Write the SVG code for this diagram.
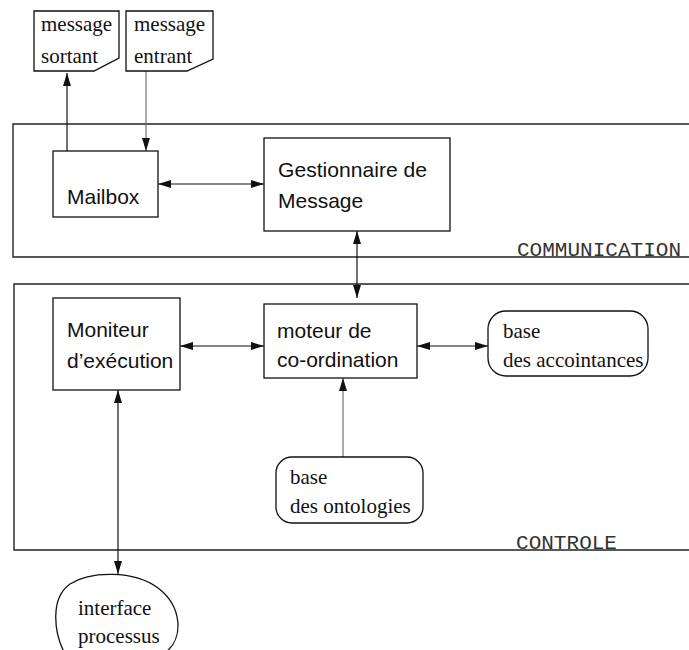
<svg xmlns="http://www.w3.org/2000/svg" width="689" height="650" viewBox="0 0 689 650">
  <defs>
    <marker id="arr" markerUnits="userSpaceOnUse" markerWidth="14" markerHeight="9" refX="13" refY="4" orient="auto-start-reverse">
      <path d="M0,0 L13,4 L0,8 Z" fill="#111"/>
    </marker>
    <style>
      .box { fill: #fff; stroke: #111; stroke-width: 1.3; }
      .frame { fill: none; stroke: #222; stroke-width: 1.4; }
      .sans { font-family: "Liberation Sans", Arial, sans-serif; font-size: 21px; fill: #111; }
      .serif { font-family: "Liberation Serif", "Times New Roman", serif; font-size: 21px; fill: #111; }
      .mono { font-family: "Liberation Mono", "Courier New", monospace; font-size: 20px; fill: #333; }
      .link { fill: none; stroke: #111; stroke-width: 1.2; }
      .thin { fill: none; stroke: #666; stroke-width: 1.1; }
    </style>
  </defs>
  <rect width="689" height="650" fill="#fff"/>

  <!-- layer frames -->
  <g id="communication">
    <path class="frame" d="M689,124 H13 V257 H689"/>
    <text class="mono" x="517" y="256" textLength="164" lengthAdjust="spacingAndGlyphs">COMMUNICATION</text>
  </g>
  <g id="controle">
    <path class="frame" d="M689,284 H14 V550 H689"/>
    <text class="mono" x="516" y="549" textLength="101" lengthAdjust="spacingAndGlyphs">CONTROLE</text>
  </g>

  <!-- connectors -->
  <g id="connectors">
    <line class="link" x1="67" y1="151" x2="67" y2="73" marker-end="url(#arr)"/>
    <line class="thin" x1="146" y1="71" x2="146" y2="151" marker-end="url(#arr)"/>
    <line class="link" x1="158" y1="184" x2="264" y2="184" marker-start="url(#arr)" marker-end="url(#arr)"/>
    <line class="link" x1="357" y1="231" x2="357" y2="298" marker-start="url(#arr)" marker-end="url(#arr)"/>
    <line class="link" x1="180" y1="346" x2="264" y2="346" marker-start="url(#arr)" marker-end="url(#arr)"/>
    <line class="link" x1="417" y1="346" x2="488" y2="346" marker-start="url(#arr)" marker-end="url(#arr)"/>
    <line class="thin" x1="343" y1="457" x2="343" y2="378" marker-end="url(#arr)"/>
    <line class="link" x1="118" y1="390" x2="118" y2="574" marker-start="url(#arr)" marker-end="url(#arr)"/>
  </g>

  <!-- nodes -->
  <g id="message-sortant">
    <path class="box" d="M34,11 H119 V58 L94,71 H34 Z"/>
    <text class="serif" x="41" y="31">message</text>
    <text class="serif" x="41" y="63">sortant</text>
  </g>
  <g id="message-entrant">
    <path class="box" d="M126,11 H213 V59 L187,71 H126 Z"/>
    <text class="serif" x="134" y="31">message</text>
    <text class="serif" x="134" y="63">entrant</text>
  </g>
  <g id="mailbox">
    <rect class="box" x="53" y="151" width="105" height="66"/>
    <text class="sans" x="67" y="204">Mailbox</text>
  </g>
  <g id="gestionnaire">
    <rect class="box" x="264" y="138" width="186" height="93"/>
    <text class="sans" x="278" y="177" textLength="149" lengthAdjust="spacingAndGlyphs">Gestionnaire de</text>
    <text class="sans" x="278" y="208">Message</text>
  </g>
  <g id="moniteur">
    <rect class="box" x="53" y="298" width="127" height="92"/>
    <text class="sans" x="67" y="337">Moniteur</text>
    <text class="sans" x="67" y="368">d’exécution</text>
  </g>
  <g id="moteur">
    <rect class="box" x="264" y="304" width="153" height="74"/>
    <text class="sans" x="277" y="338">moteur de</text>
    <text class="sans" x="277" y="367">co-ordination</text>
  </g>
  <g id="accointances">
    <rect class="box" x="488" y="311" width="160" height="65" rx="18" ry="18"/>
    <text class="serif" x="503" y="338">base</text>
    <text class="serif" x="503" y="367">des accointances</text>
  </g>
  <g id="ontologies">
    <rect class="box" x="276" y="457" width="147" height="66" rx="16" ry="16"/>
    <text class="serif" x="290" y="484">base</text>
    <text class="serif" x="290" y="513">des ontologies</text>
  </g>
  <g id="interface">
    <path class="box" d="M64,652 C54,632 50,598 70,584 C90,571 134,570 158,588 C182,606 184,638 166,652"/>
    <text class="serif" x="78" y="615">interface</text>
    <text class="serif" x="78" y="643">processus</text>
  </g>
</svg>
